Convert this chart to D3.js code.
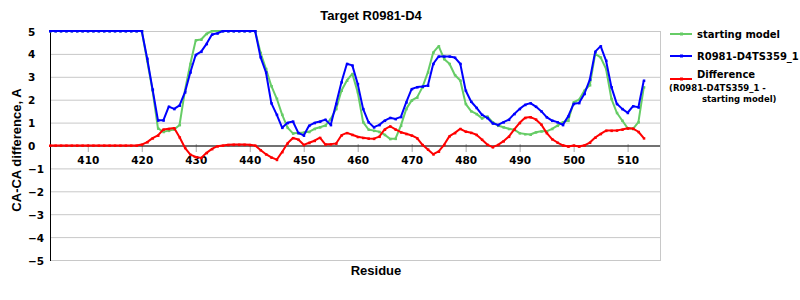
<!DOCTYPE html>
<html>
<head>
<meta charset="utf-8">
<script src="https://cdn.jsdelivr.net/npm/d3@7"></script>
<style>
  body { margin: 0; background: #fff; }
  svg { display: block; }
  .tick-label { font-family: "DejaVu Sans", Verdana, sans-serif; font-weight: bold; font-size: 10.5px; fill: #000; }
  .title { font-family: "Liberation Sans", Arial, sans-serif; font-weight: bold; font-size: 13px; }
  .legend text { font-family: "DejaVu Sans", Verdana, sans-serif; font-weight: bold; }
</style>
</head>
<body>
<div id="chart"></div>
<script>
// residue numbers (x categories)
var residues = [
  403, 404, 405, 406, 407, 408, 409, 410,
  411, 412, 413, 414, 415, 416, 417, 418, 419, 420,
  421, 422, 423, 424, 425, 426, 427, 428, 429, 430,
  431, 432, 433, 434, 435, 436, 437, 438, 439, 440,
  441, 442, 443, 444, 445, 446, 447, 448, 449, 450,
  451, 452, 453, 454, 455, 456, 457, 458, 459, 460,
  461, 462, 463, 464, 465, 466, 467, 468, 469, 470,
  471, 472, 473, 474, 475, 476, 477, 478, 479, 480,
  481, 482, 483, 484, 485, 486, 487, 488, 489, 490,
  491, 492, 493, 494, 495, 496, 497, 498, 499, 500,
  501, 502, 503, 504, 505, 506, 507, 508, 509, 510,
  511, 512, 513
];

var startingModel = [
  5, 5, 5, 5, 5, 5, 5, 5,
  5, 5, 5, 5, 5, 5, 5, 5, 5, 5,
  3.7, 2.4, 0.75, 0.6, 0.65, 0.7, 0.9, 2.4, 3.57, 4.6,
  4.63, 4.88, 5, 5, 5, 5, 5, 5, 5, 5,
  5, 4.05, 3.35, 2.6, 2.05, 1.35, 0.78, 0.53, 0.55, 0.57,
  0.6, 0.73, 0.8, 0.87, 1.16, 1.6, 2.4, 2.84, 3.13, 2.33,
  1.02, 0.7, 0.65, 0.6, 0.47, 0.29, 0.3, 0.87, 1.6, 1.97,
  2.1, 2.55, 3.2, 4.07, 4.34, 3.78, 3.57, 3.08, 2.84, 1.82,
  1.5, 1.38, 1.19, 1.27, 1.02, 0.87, 0.8, 0.73, 0.69, 0.54,
  0.5, 0.48, 0.58, 0.62, 0.62, 0.73, 0.87, 1.02, 1.09, 1.89,
  2.0, 2.4, 2.64, 4.0, 3.85, 3.35, 2.04, 1.43, 1.09, 0.76,
  0.73, 1.02, 2.55
];

var model359 = [
  5, 5, 5, 5, 5, 5, 5, 5,
  5, 5, 5, 5, 5, 5, 5, 5, 5, 5,
  3.8, 2.45, 1.1, 1.1, 1.7, 1.6, 1.75, 2.33, 3.2, 3.96,
  4.1, 4.44, 4.85, 4.9, 5, 5, 5, 5, 5, 5,
  5, 3.86, 3.2, 1.85, 1.35, 0.78, 0.99, 1.05, 0.55, 0.44,
  0.87, 0.99, 1.05, 1.13, 0.9, 1.82, 2.77, 3.57, 3.5, 2.69,
  1.6, 1.02, 0.8, 0.9, 1.09, 1.21, 1.16, 1.25, 1.89, 2.47,
  2.55, 2.58, 2.62, 3.57, 3.89, 3.89, 3.89, 3.84, 3.57, 2.4,
  1.92, 1.65, 1.35, 1.21, 0.97, 0.9, 1.02, 1.13, 1.38, 1.6,
  1.78, 1.85, 1.7, 1.5, 1.24, 1.09, 1.02, 0.9, 1.28, 1.82,
  1.86, 2.26, 2.88, 4.1, 4.34, 3.71, 2.55, 1.82, 1.6, 1.43,
  1.72, 1.67, 2.84
];

var difference = [
  0, 0, 0, 0, 0, 0, 0, 0,
  0, 0, 0, 0, 0, 0, 0, 0, 0, 0.04,
  0.15, 0.32, 0.44, 0.7, 0.73, 0.76, 0.36, -0.1, -0.4, -0.5,
  -0.54, -0.32, -0.15, -0.03, 0, 0.03, 0.04, 0.04, 0.04, 0.03,
  0, -0.2, -0.38, -0.52, -0.62, -0.28, 0.1, 0.33, 0.26, 0.03,
  0.12, 0.21, 0.34, 0.05, 0.06, 0.09, 0.45, 0.55, 0.47, 0.38,
  0.34, 0.31, 0.3, 0.39, 0.7, 0.84, 0.7, 0.58, 0.51, 0.44,
  0.32, 0.03, -0.17, -0.38, -0.26, 0.03, 0.41, 0.55, 0.73, 0.61,
  0.56, 0.47, 0.26, 0.04, -0.07, 0.03, 0.19, 0.39, 0.7, 0.99,
  1.21, 1.24, 1.14, 0.92, 0.55, 0.28, 0.13, 0.01, -0.04, 0,
  -0.04, 0.01, 0.13, 0.35, 0.51, 0.65, 0.65, 0.66, 0.7, 0.75,
  0.74, 0.6, 0.32
];

var xTickValues = [410, 420, 430, 440, 450, 460, 470, 480, 490, 500, 510];
var yTickValues = [-5, -4, -3, -2, -1, 0, 1, 2, 3, 4, 5];

var width = 800,
  height = 300,
  margin = { top: 31, right: 140, bottom: 40, left: 50 };
var innerWidth = width - margin.left - margin.right,
  innerHeight = height - margin.top - margin.bottom;

var svg = d3
  .select("#chart")
  .append("svg")
  .attr("width", width)
  .attr("height", height);

svg.append("rect").attr("width", width).attr("height", height).attr("fill", "#fff");

var g = svg
  .append("g")
  .attr("transform", "translate(" + margin.left + "," + margin.top + ")");

var xScale = d3.scaleLinear().domain([403, 516]).range([0, innerWidth]);
var yScale = d3.scaleLinear().domain([-5, 5]).range([innerHeight, 0]);

// horizontal gridlines
g.append("g")
  .selectAll("line")
  .data(yTickValues)
  .enter()
  .append("line")
  .attr("x1", 0)
  .attr("x2", innerWidth)
  .attr("y1", (d) => yScale(d) + 0.5)
  .attr("y2", (d) => yScale(d) + 0.5)
  .attr("stroke", "#c8c8c8")
  .attr("stroke-width", 1);

// right border
g.append("line")
  .attr("x1", innerWidth + 0.5)
  .attr("x2", innerWidth + 0.5)
  .attr("y1", yScale(5))
  .attr("y2", yScale(-5) + 1)
  .attr("stroke", "#c8c8c8");

// x axis sits on zero
var xAxis = d3
  .axisBottom(xScale)
  .tickValues(xTickValues)
  .tickSize(0)
  .tickPadding(0)
  .tickFormat(d3.format("d"));

var gX = g
  .append("g")
  .attr("transform", "translate(0," + (yScale(0) + 0.5) + ")")
  .call(xAxis);
gX.select(".domain").remove();
gX.selectAll("text")
  .attr("class", "tick-label")
  .attr("dy", null)
  .attr("y", 18)
  .style("font-family", null)
  .style("font-size", null);
gX.selectAll(".tick")
  .append("line")
  .attr("y1", -2)
  .attr("y2", 6)
  .attr("stroke", "#aaa");
gX.attr("font-family", null).attr("font-size", null);

// zero line
g.append("line")
  .attr("x1", 0)
  .attr("x2", innerWidth)
  .attr("y1", yScale(0) + 0.5)
  .attr("y2", yScale(0) + 0.5)
  .attr("stroke", "#000");

// y tick labels, left aligned like the original
g.append("g")
  .selectAll("text")
  .data(yTickValues)
  .enter()
  .append("text")
  .attr("class", "tick-label")
  .attr("x", -22)
  .attr("y", (d) => yScale(d) + 4.5)
  .text((d) => (d < 0 ? "\u2212" + Math.abs(d) : d));

// left axis line
g.append("line")
  .attr("x1", 0.5)
  .attr("x2", 0.5)
  .attr("y1", yScale(5))
  .attr("y2", yScale(-5) + 1)
  .attr("stroke", "#000");

var series = [
  { name: "starting model", values: startingModel, color: "#66cc66" },
  { name: "R0981-D4TS359_1", values: model359, color: "#0000ff" },
  { name: "Difference", values: difference, color: "#ff0000" },
];

var line = d3
  .line()
  .x((d) => xScale(d[0]))
  .y((d) => yScale(d[1]));

series.forEach(function (s) {
  var pts = residues.map((r, i) => [r, s.values[i]]);
  g.append("path")
    .datum(pts)
    .attr("fill", "none")
    .attr("stroke", s.color)
    .attr("stroke-width", 2)
    .attr("stroke-linejoin", "round")
    .attr("d", line);
  g.append("g")
    .selectAll("rect")
    .data(pts)
    .enter()
    .append("rect")
    .attr("x", (d) => xScale(d[0]) - 1)
    .attr("y", (d) => yScale(d[1]) - 1)
    .attr("width", 2.5)
    .attr("height", 2.5)
    .attr("fill", s.color);
});

// title and axis labels
svg.append("text")
  .attr("class", "title")
  .attr("x", 371)
  .attr("y", 20)
  .attr("text-anchor", "middle")
  .text("Target R0981-D4");

svg.append("text")
  .attr("class", "title")
  .attr("x", 376)
  .attr("y", 275)
  .attr("text-anchor", "middle")
  .text("Residue");

svg.append("text")
  .attr("class", "title")
  .attr("transform", "translate(21,150) rotate(-90)")
  .attr("text-anchor", "middle")
  .text("CA-CA difference, A");

// legend
var legend = svg.append("g").attr("class", "legend");
var legendRows = [
  { label: "starting model", color: "#66cc66", ly: 34, ty: 38 },
  { label: "R0981-D4TS359_1", color: "#0000ff", ly: 56, ty: 60 },
  { label: "Difference", color: "#ff0000", ly: 79, ty: 78 },
];
legendRows.forEach(function (d) {
  legend.append("line")
    .attr("x1", 670)
    .attr("x2", 692)
    .attr("y1", d.ly)
    .attr("y2", d.ly)
    .attr("stroke", d.color)
    .attr("stroke-width", 2);
  legend.append("rect")
    .attr("x", 680)
    .attr("y", d.ly - 1.5)
    .attr("width", 3)
    .attr("height", 3)
    .attr("fill", d.color);
  legend.append("text")
    .attr("x", 697)
    .attr("y", d.ty)
    .attr("font-size", "10px")
    .text(d.label);
});
legend.append("text")
  .attr("x", 669)
  .attr("y", 91)
  .attr("font-size", "8.5px")
  .text("(R0981-D4TS359_1 -");
legend.append("text")
  .attr("x", 702)
  .attr("y", 102)
  .attr("font-size", "8.5px")
  .text("starting model)");
</script>
</body>
</html>
